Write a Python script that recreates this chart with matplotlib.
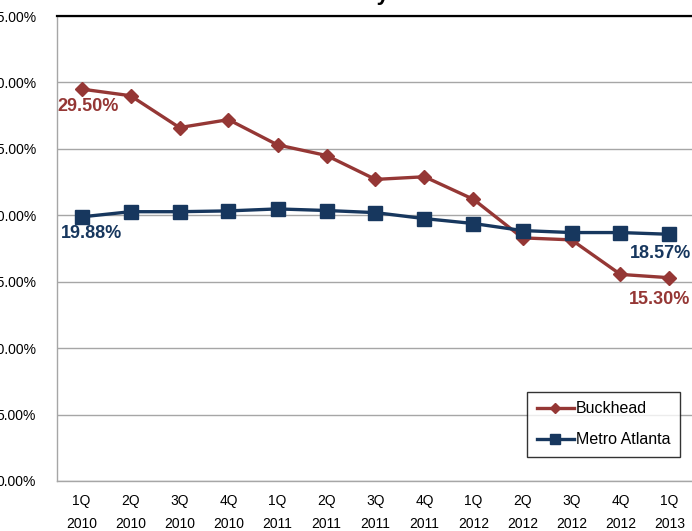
import matplotlib
matplotlib.use("Agg")
import matplotlib.pyplot as plt
from matplotlib.ticker import FuncFormatter

categories = ["1Q\n2010", "2Q\n2010", "3Q\n2010", "4Q\n2010", "1Q\n2011", "2Q\n2011",
              "3Q\n2011", "4Q\n2011", "1Q\n2012", "2Q\n2012", "3Q\n2012", "4Q\n2012", "1Q\n2013"]
buckhead = [29.50, 29.0, 26.6, 27.2, 25.3, 24.5, 22.7, 22.9, 21.2, 18.3, 18.15, 15.55, 15.30]
metro = [19.88, 20.27, 20.27, 20.33, 20.48, 20.36, 20.2, 19.75, 19.38, 18.85, 18.7, 18.7, 18.57]
yticks = [0, 5, 10, 15, 20, 25, 30, 35]

RED = "#953735"
NAVY = "#17375E"

plt.rcParams['font.family'] = ['Liberation Sans', 'DejaVu Sans']

fig = plt.figure(figsize=(6.92, 5.31), dpi=100)
ax = fig.add_axes([57/692, 50/531, 637/692, 465/531])

x = list(range(len(categories)))
ax.plot(x, buckhead, color=RED, lw=2.4, marker='D', ms=7, label="Buckhead", zorder=3)
ax.plot(x, metro, color=NAVY, lw=2.4, marker='s', ms=9.5, label="Metro Atlanta", zorder=4)

ax.set_xlim(-0.5, len(categories) - 0.5)
ax.set_ylim(0, 35)
ax.set_yticks(yticks)
ax.yaxis.set_major_formatter(FuncFormatter(lambda v, p: f"{v:.2f}%"))
ax.set_xticks(x)
ax.set_xticklabels(categories, linespacing=1.9)
ax.tick_params(axis='y', length=0, pad=15, labelsize=10)
ax.tick_params(axis='x', length=0, pad=9, labelsize=10)
ax.grid(axis='y', color='#A6A6A6', lw=1)
ax.set_axisbelow(True)
for s in ['left', 'bottom']:
    ax.spines[s].set_color('#A6A6A6')
    ax.spines[s].set_linewidth(1)
ax.spines['top'].set_color('black')
ax.spines['top'].set_linewidth(1.6)
ax.spines['right'].set_visible(False)

# data labels
lab = dict(textcoords='offset pixels', ha='left', va='center', fontsize=13, fontweight='bold')
ax.annotate(f"{buckhead[0]:.2f}%", (x[0], buckhead[0]), xytext=(-24, -17), color=RED, **lab)
ax.annotate(f"{metro[0]:.2f}%", (x[0], metro[0]), xytext=(-21, -17), color=NAVY, **lab)
ax.annotate(f"{metro[-1]:.2f}%", (x[-1], metro[-1]), xytext=(-40, -19), color=NAVY, **lab)
ax.annotate(f"{buckhead[-1]:.2f}%", (x[-1], buckhead[-1]), xytext=(-41, -22), color=RED, **lab)

leg = ax.legend(loc='lower right', bbox_to_anchor=((680-57)/637, 24/465), borderaxespad=0,
                fancybox=False, edgecolor='black', fontsize=11.5, handlelength=2.3,
                handletextpad=0.15, labelspacing=1.0, borderpad=0.6, markerscale=0.75)
leg.get_frame().set_linewidth(1)

fig.text(390/692, 1.0, "Vacancy", ha='right', va='baseline', fontsize=16, fontweight='bold')

fig.savefig("out.png", dpi=100)
